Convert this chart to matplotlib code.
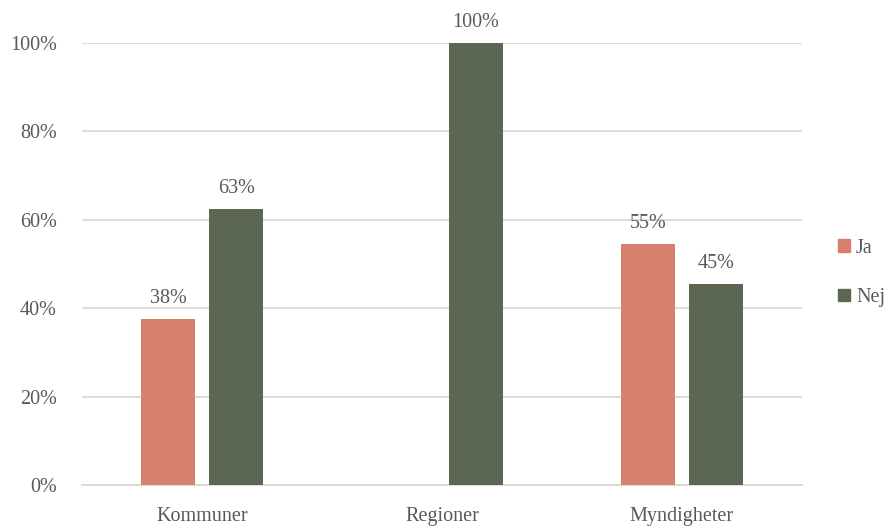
import matplotlib
matplotlib.use("Agg")
import matplotlib.pyplot as plt
from matplotlib.patches import Patch
import numpy as np

categories = ["Kommuner", "Regioner", "Myndigheter"]
ja = [0.375, 0.0, 0.5455]
nej = [0.625, 1.0, 0.4545]
yticks = [0.0, 0.2, 0.4, 0.6, 0.8, 1.0]
series_names = ["Ja", "Nej"]

plt.rcParams["font.family"] = ["Liberation Serif", "DejaVu Serif"]
text_color = "#595959"
col_ja = "#D8806F"
col_nej = "#5C6751"

fig = plt.figure(figsize=(8.93, 5.29), dpi=100)
ax = fig.add_axes([82 / 893, 1 - 485 / 529, 720 / 893, 442 / 529])

x = np.arange(len(categories))
w = 0.225
off = 0.142
b1 = ax.bar(x - off, ja, w, color=col_ja, zorder=3)
b2 = ax.bar(x + off, nej, w, color=col_nej, zorder=3)

def fmt(v):
    return f"{int(np.floor(v * 100 + 0.5))}%"

for bars, vals in ((b1, ja), (b2, nej)):
    for rect, v in zip(bars, vals):
        if v == 0:
            continue
        ax.annotate(fmt(v), (rect.get_x() + rect.get_width() / 2, v),
                    xytext=(0, 8), textcoords="offset points",
                    ha="center", va="bottom", fontsize=14.5, color=text_color)

ax.set_xlim(-0.5, 2.5)
ax.set_ylim(0, 1)
ax.set_yticks(yticks)
ax.set_yticklabels([f"{int(round(t * 100))}%" for t in yticks])
ax.set_xticks(x)
ax.set_xticklabels(categories)
ax.tick_params(axis="both", length=0, labelsize=14.5, colors=text_color)
ax.tick_params(axis="y", pad=18)
ax.tick_params(axis="x", pad=16)
ax.grid(axis="y", color="#D9D9D9", linewidth=1.3, zorder=0)
for s in ("top", "right", "left"):
    ax.spines[s].set_visible(False)
ax.spines["bottom"].set_color("#D9D9D9")
ax.spines["bottom"].set_linewidth(1.3)

handles = [Patch(color=col_ja), Patch(color=col_nej)]
fig.legend(handles, series_names, loc="center left", bbox_to_anchor=(838 / 893, 1 - 273 / 529),
           frameon=False, fontsize=14.5, labelcolor=text_color, handlelength=0.6,
           handleheight=0.6, handletextpad=0.3, labelspacing=1.5, borderpad=0, borderaxespad=0)

fig.savefig("out.png", dpi=100)
